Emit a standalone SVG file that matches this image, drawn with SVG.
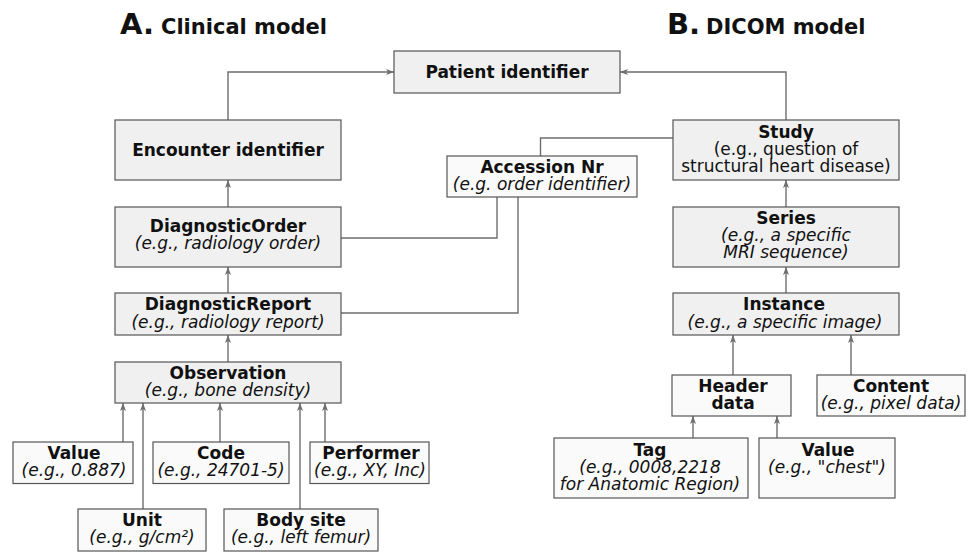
<svg xmlns="http://www.w3.org/2000/svg" width="972" height="552" viewBox="0 0 972 552">
<style>
text{font-family:"DejaVu Sans","Liberation Sans",sans-serif;fill:#111;text-anchor:middle;font-size:17px}
.b{font-weight:bold}
.i{font-style:italic}
.t1{font-size:29px;font-weight:bold;text-anchor:start}
.t2{font-size:21px;font-weight:bold;text-anchor:start}
.m{fill:#f0f0f0;stroke:#555;stroke-width:1.2}
.l{fill:#fafafa;stroke:#555;stroke-width:1.2}
#connectors path{fill:none;stroke:#6e6e6e;stroke-width:1.4}
</style>
<defs>
<marker id="ah" markerWidth="9" markerHeight="7" refX="8" refY="3.5" orient="auto" markerUnits="userSpaceOnUse">
<path d="M0,0.5 L8,3.5 L0,6.5 L2,3.5 z" fill="#6e6e6e"/>
</marker>
</defs>
<rect width="972" height="552" fill="#fff"/>
<g id="titles">
<text class="t1" x="120" y="34">A.</text><text class="t2" x="161" y="34">Clinical model</text>
<text class="t1" x="667" y="34">B.</text><text class="t2" x="706" y="34">DICOM model</text>
</g>
<g id="connectors">
<path d="M228,120 V72 H394" marker-end="url(#ah)"/>
<path d="M786,120 V72 H620" marker-end="url(#ah)"/>
<path d="M228,207 V180" marker-end="url(#ah)"/>
<path d="M228,293 V267" marker-end="url(#ah)"/>
<path d="M228,362 V335" marker-end="url(#ah)"/>
<path d="M123,442 V403" marker-end="url(#ah)"/>
<path d="M143,509 V403" marker-end="url(#ah)"/>
<path d="M220,442 V403" marker-end="url(#ah)"/>
<path d="M300,509 V403" marker-end="url(#ah)"/>
<path d="M325,442 V403" marker-end="url(#ah)"/>
<path d="M673,138 H540.5 V156"/>
<path d="M341,238 H497 V197"/>
<path d="M341,313 H518 V197"/>
<path d="M786,207 V180" marker-end="url(#ah)"/>
<path d="M786,293 V267" marker-end="url(#ah)"/>
<path d="M733,375 V335" marker-end="url(#ah)"/>
<path d="M851,375 V335" marker-end="url(#ah)"/>
<path d="M693,438 V416" marker-end="url(#ah)"/>
<path d="M777,438 V416" marker-end="url(#ah)"/>
</g>
<g id="patient"><rect class="m" x="394" y="51" width="226" height="42"/><text class="b" x="507" y="78">Patient identifier</text></g>
<g id="encounter"><rect class="m" x="115" y="120" width="226" height="60"/><text class="b" x="228" y="156">Encounter identifier</text></g>
<g id="diagnosticorder"><rect class="m" x="115" y="207" width="226" height="60"/><text class="b" x="228" y="232">DiagnosticOrder</text><text class="i" x="228" y="249">(e.g., radiology order)</text></g>
<g id="diagnosticreport"><rect class="m" x="115" y="293" width="226" height="42"/><text class="b" x="228" y="310">DiagnosticReport</text><text class="i" x="228" y="327.5">(e.g., radiology report)</text></g>
<g id="observation"><rect class="m" x="115" y="362" width="226" height="41"/><text class="b" x="228" y="378.5">Observation</text><text class="i" x="228" y="395.5">(e.g., bone density)</text></g>
<g id="value"><rect class="l" x="13" y="442" width="120" height="41.5"/><text class="b" x="74" y="458.5">Value</text><text class="i" x="74" y="475.5">(e.g., 0.887)</text></g>
<g id="code"><rect class="l" x="153" y="442" width="136" height="41.5"/><text class="b" x="221" y="458.5">Code</text><text class="i" x="221" y="475.5">(e.g., 24701-5)</text></g>
<g id="performer"><rect class="l" x="310" y="442" width="119" height="41.5"/><text class="b" x="371" y="458.5">Performer</text><text class="i" x="370" y="475.5">(e.g., XY, Inc)</text></g>
<g id="unit"><rect class="l" x="78" y="509" width="128" height="42"/><text class="b" x="142" y="526">Unit</text><text class="i" x="142" y="543">(e.g., g/cm²)</text></g>
<g id="bodysite"><rect class="l" x="224" y="509" width="154" height="42"/><text class="b" x="301" y="526">Body site</text><text class="i" x="301" y="543">(e.g., left femur)</text></g>
<g id="accession"><rect class="l" x="447" y="156" width="190" height="41"/><text class="b" x="542" y="172.5">Accession Nr</text><text class="i" x="542" y="190">(e.g. order identifier)</text></g>
<g id="study"><rect class="m" x="673" y="120" width="226" height="60"/><text class="b" x="786" y="137.5">Study</text><text x="786" y="155">(e.g., question of</text><text x="786" y="172">structural heart disease)</text></g>
<g id="series"><rect class="m" x="673" y="207" width="226" height="60"/><text class="b" x="786" y="223.5">Series</text><text class="i" x="786" y="240.5">(e.g., a specific</text><text class="i" x="786" y="257.5">MRI sequence)</text></g>
<g id="instance"><rect class="m" x="673" y="293" width="226" height="42"/><text class="b" x="784" y="310">Instance</text><text class="i" x="785" y="327.5">(e.g., a specific image)</text></g>
<g id="header"><rect class="l" x="672" y="375" width="119" height="41"/><text class="b" x="733" y="391.5">Header</text><text class="b" x="733" y="409">data</text></g>
<g id="content"><rect class="l" x="817" y="375" width="148" height="41"/><text class="b" x="891" y="391.5">Content</text><text class="i" x="891" y="409">(e.g., pixel data)</text></g>
<g id="tag"><rect class="l" x="554" y="438" width="194" height="60"/><text class="b" x="650" y="456">Tag</text><text class="i" x="650" y="473">(e.g., 0008,2218</text><text class="i" x="650" y="489.5">for Anatomic Region)</text></g>
<g id="dicomvalue"><rect class="l" x="759" y="438" width="136" height="60"/><text class="b" x="828" y="456">Value</text><text class="i" x="827" y="473">(e.g., "chest")</text></g>
</svg>
